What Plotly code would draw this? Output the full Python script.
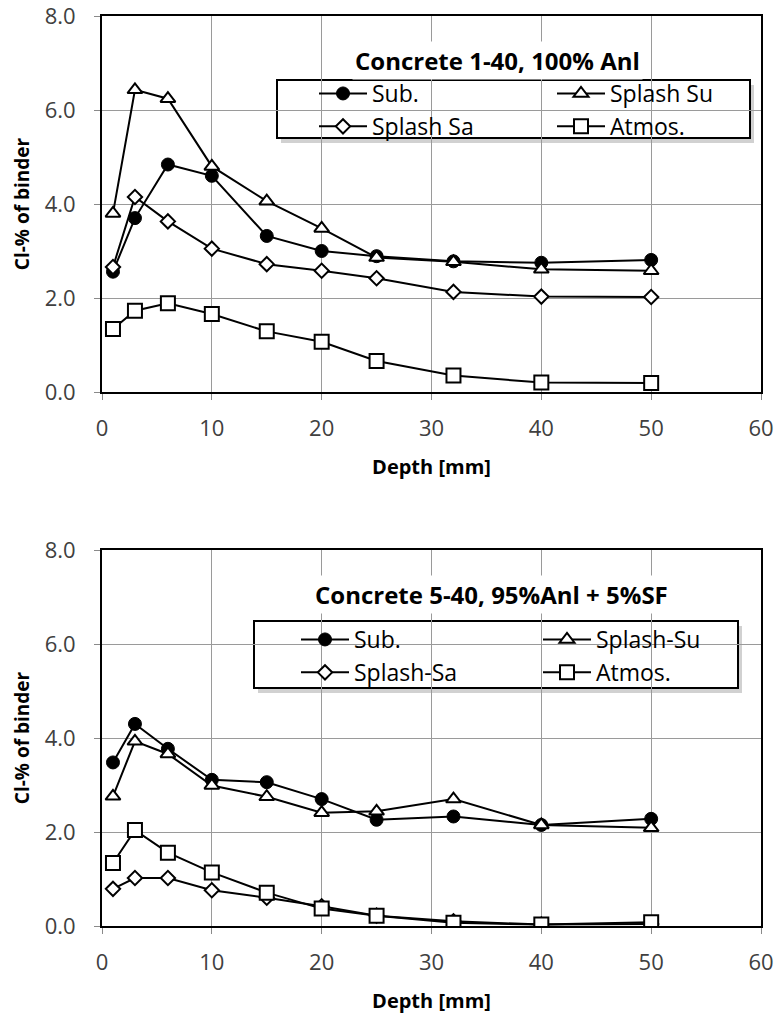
import plotly.graph_objects as go
from plotly.subplots import make_subplots

# Sampling depths (mm)
depth = [1, 3, 6, 10, 15, 20, 25, 32, 40, 50]

# Concrete 1-40, 100% Anl  (Cl- in % of binder)
c1_sub = [2.56, 3.70, 4.84, 4.60, 3.32, 3.00, 2.89, 2.78, 2.75, 2.81]
c1_splash_su = [3.80, 6.43, 6.24, 4.80, 4.06, 3.48, 2.86, 2.77, 2.61, 2.58]
c1_splash_sa = [2.66, 4.15, 3.63, 3.05, 2.72, 2.58, 2.42, 2.13, 2.03, 2.02]
c1_atmos = [1.34, 1.73, 1.89, 1.66, 1.29, 1.07, 0.66, 0.35, 0.20, 0.19]

# Concrete 5-40, 95%Anl + 5%SF
c5_sub = [3.48, 4.30, 3.77, 3.11, 3.06, 2.70, 2.26, 2.33, 2.15, 2.28]
c5_splash_su = [2.76, 3.93, 3.66, 2.99, 2.75, 2.41, 2.44, 2.70, 2.15, 2.09]
c5_splash_sa = [0.79, 1.02, 1.02, 0.76, 0.60, 0.42, 0.22, 0.10, 0.03, 0.04]
c5_atmos = [1.34, 2.04, 1.56, 1.14, 0.71, 0.37, 0.22, 0.07, 0.03, 0.08]

titles = ["Concrete 1-40, 100% Anl", "Concrete 5-40, 95%Anl + 5%SF"]
names_top = ["Sub.", "Splash Su", "Splash Sa", "Atmos."]
names_bot = ["Sub.", "Splash-Su", "Splash-Sa", "Atmos."]
x_ticks = [0, 10, 20, 30, 40, 50, 60]
y_ticks = [0, 2, 4, 6, 8]

FONT = "Open Sans"
W, H = 779, 1021
L, R, T, B = 102, 18, 16, 95
PW, PH = W - L - R, H - T - B


def px(x):
    return (x - L) / PW


def py(y):
    return (H - B - y) / PH


styles = [
    dict(symbol="circle", size=13, color="black", line=dict(color="black", width=1)),
    dict(symbol="triangle-up", size=13, color="white", line=dict(color="black", width=2)),
    dict(symbol="diamond", size=11, color="white", line=dict(color="black", width=2)),
    dict(symbol="square", size=14, color="white", line=dict(color="black", width=2)),
]

fig = make_subplots(rows=2, cols=1, vertical_spacing=(550 - 392) / PH)

datasets = [
    (1, names_top, [c1_sub, c1_splash_su, c1_splash_sa, c1_atmos], ("legend", "legend2")),
    (2, names_bot, [c5_sub, c5_splash_su, c5_splash_sa, c5_atmos], ("legend3", "legend4")),
]

for row, names, series, (lg_a, lg_b) in datasets:
    for i, (name, vals) in enumerate(zip(names, series)):
        fig.add_trace(
            go.Scatter(
                x=depth, y=vals, name=name, mode="lines+markers",
                line=dict(color="black", width=2),
                marker=styles[i],
                legend=lg_a if i in (0, 2) else lg_b,
            ),
            row=row, col=1,
        )

axis_common = dict(
    showgrid=True, gridcolor="#9a9a9a", gridwidth=1,
    showline=True, linecolor="black", linewidth=2, mirror=True,
    ticks="outside", ticklen=6, tickcolor="#8a8a8a", zeroline=False,
    automargin=False, ticklabeloverflow="allow",
    tickfont=dict(family=FONT, size=22, color="#404040"),
)

for row in (1, 2):
    fig.update_xaxes(
        range=[0, 60], tickvals=x_ticks, ticklabelstandoff=10,
        title=dict(text="<b>Depth [mm]</b>", font=dict(family=FONT, size=20, color="black"), standoff=19),
        row=row, col=1, **axis_common,
    )
    fig.update_yaxes(
        range=[0, 8], tickvals=y_ticks, tickformat=".1f", ticklabelstandoff=14,
        title=dict(text="<b>Cl-% of binder</b>", font=dict(family=FONT, size=19, color="black"), standoff=10),
        row=row, col=1, **axis_common,
    )

legend_font = dict(family=FONT, size=23, color="black")
leg_common = dict(bgcolor="rgba(0,0,0,0)", borderwidth=0, font=legend_font,
                  xanchor="left", yanchor="top", tracegroupgap=0, itemsizing="trace",
                  itemwidth=48)

# Legend boxes (pixel positions) and title centres
boxes = [(277, 80, 750, 138), (254, 621, 738, 688)]
title_pos = [(497, 60), (491, 594)]
legend_cols = [((314, 72), (552, 72)), ((296, 618), (538, 618))]

shapes = []
annotations = []
legends = {}
for k in range(2):
    x0, y0, x1, y1 = boxes[k]
    shapes.append(dict(type="rect", xref="paper", yref="paper", layer="between",
                       x0=px(x0 + 4), x1=px(x1 + 4), y0=py(y1 + 5), y1=py(y0 + 5),
                       fillcolor="rgba(0,0,0,0.18)", line=dict(width=0)))
    shapes.append(dict(type="rect", xref="paper", yref="paper", layer="between",
                       x0=px(x0), x1=px(x1), y0=py(y1), y1=py(y0),
                       fillcolor="white", line=dict(color="black", width=2)))
    tx, ty = title_pos[k]
    annotations.append(dict(text="<b>" + titles[k] + "</b>", xref="paper", yref="paper",
                            x=px(tx), y=py(ty), xanchor="center", yanchor="middle",
                            showarrow=False, bgcolor="white", borderpad=2,
                            font=dict(family=FONT, size=24, color="black")))
    (ax, ay), (bx, by) = legend_cols[k]
    keys = ("legend", "legend2") if k == 0 else ("legend3", "legend4")
    legends[keys[0]] = dict(x=px(ax), y=py(ay), **leg_common)
    legends[keys[1]] = dict(x=px(bx), y=py(by), **leg_common)

fig.update_layout(
    width=W, height=H,
    margin=dict(l=L, r=R, t=T, b=B),
    paper_bgcolor="white", plot_bgcolor="white",
    font=dict(family=FONT),
    shapes=shapes, annotations=annotations,
    showlegend=True,
    **legends,
)

fig.write_html("out.html")
